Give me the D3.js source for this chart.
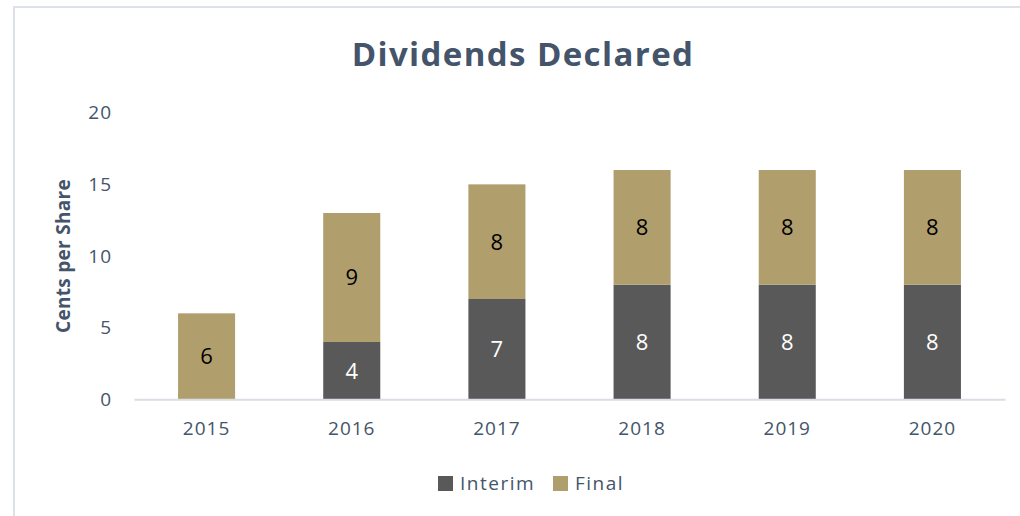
<!doctype html>
<html>
  <head>
    <script src="https://cdnjs.cloudflare.com/ajax/libs/d3/7.8.5/d3.min.js"></script>
    <style>
      body { margin: 0; background: #fff; font-family: "Open Sans", sans-serif; }
      .tick text { fill: #44546A; font-size: 19px; letter-spacing: 1px; font-family: "Open Sans", sans-serif; }
      .title { fill: #44546A; font-size: 33px; font-weight: bold; letter-spacing: 1.4px; }
      .ytitle { fill: #44546A; font-size: 19px; font-weight: bold; letter-spacing: 0.3px; }
      .legend text { fill: #44546A; font-size: 19px; letter-spacing: 1.5px; }
    </style>
  </head>
  <body>
    <svg width="1020" height="516"></svg>
    <script>
      var years = ["2015", "2016", "2017", "2018", "2019", "2020"];
      var interim = [0, 4, 7, 8, 8, 8];
      var finalDiv = [6, 9, 8, 8, 8, 8];
      var seriesNames = ["Interim", "Final"];
      var colors = ["#595959", "#B09F6D"];
      var labelColors = ["#ffffff", "#000000"];
      var yTicks = [0, 5, 10, 15, 20];

      var svg = d3.select("svg");

      // frame
      svg.append("path")
        .attr("d", "M14,516 L14,7 L1020,7")
        .attr("fill", "none")
        .attr("stroke", "#DDE1E8")
        .attr("stroke-width", 2);

      var plotLeft = 134, plotRight = 1005, plotTop = 112.7, plotBottom = 399.3;

      var x = d3.scaleBand().domain(years).range([plotLeft, plotRight]).paddingInner(0.607).paddingOuter(0.3035);
      var y = d3.scaleLinear().domain([0, 20]).range([plotBottom, plotTop]);

      var rows = years.map((yr, i) => ({ year: yr, Interim: interim[i], Final: finalDiv[i] }));
      var stack = d3.stack().keys(seriesNames)(rows);

      svg.append("text")
        .attr("class", "title")
        .attr("x", 523).attr("y", 66)
        .attr("text-anchor", "middle")
        .text("Dividends Declared");

      // y axis labels only
      var yAxis = svg.append("g")
        .attr("transform", "translate(" + plotLeft + ",0)")
        .call(d3.axisLeft(y).tickValues(yTicks).tickSize(0).tickPadding(22));
      yAxis.select(".domain").remove();

      svg.append("text")
        .attr("class", "ytitle")
        .attr("transform", "translate(70," + ((plotTop + plotBottom) / 2) + ") rotate(-90)")
        .attr("text-anchor", "middle")
        .text("Cents per Share");

      var groups = svg.selectAll("g.series")
        .data(stack)
        .enter().append("g")
        .attr("class", "series")
        .attr("fill", (d, i) => colors[i]);

      groups.selectAll("rect")
        .data(d => d.filter(s => s[1] > s[0]))
        .enter().append("rect")
        .attr("x", d => x(d.data.year))
        .attr("width", x.bandwidth())
        .attr("y", d => y(d[1]))
        .attr("height", d => y(d[0]) - y(d[1]));

      groups.selectAll("text")
        .data((d, i) => d.filter(s => s[1] > s[0]).map(s => ({ s: s, i: i })))
        .enter().append("text")
        .attr("x", d => x(d.s.data.year) + x.bandwidth() / 2)
        .attr("y", d => (y(d.s[0]) + y(d.s[1])) / 2)
        .attr("dy", "0.36em")
        .attr("text-anchor", "middle")
        .attr("fill", d => labelColors[d.i])
        .style("font-size", "22px")
        .text(d => d.s[1] - d.s[0]);

      // x axis
      var xAxis = svg.append("g")
        .attr("transform", "translate(0," + plotBottom + ")")
        .call(d3.axisBottom(x).tickSize(0).tickPadding(22));
      xAxis.select(".domain").attr("stroke", "#D9DDE4").attr("stroke-width", 2);

      // legend
      var legend = svg.append("g").attr("class", "legend");
      var legX = [438, 553];
      seriesNames.forEach((name, i) => {
        legend.append("rect")
          .attr("x", legX[i]).attr("y", 476)
          .attr("width", 15).attr("height", 15)
          .attr("fill", colors[i]);
        legend.append("text")
          .attr("x", legX[i] + 22).attr("y", 490)
          .text(name);
      });
    </script>
  </body>
</html>
